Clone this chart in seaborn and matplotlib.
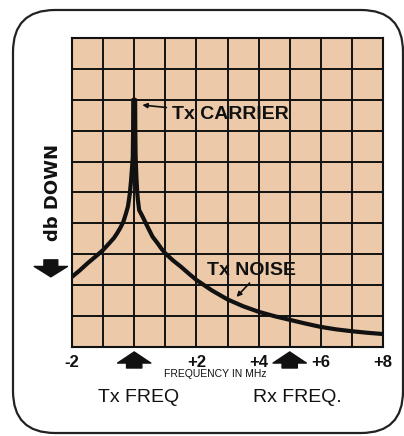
import matplotlib
matplotlib.use("Agg")
import matplotlib.pyplot as plt
import seaborn as sns
import pandas as pd
from matplotlib.patches import FancyBboxPatch
from matplotlib.transforms import IdentityTransform

# ------------------------------------------------------------------
# data (frequency in MHz vs dB level, 0..10 grid)
# ------------------------------------------------------------------
FREQ_MHZ = [-2.0, -1.75, -1.5, -1.25, -1.0, -0.8, -0.65, -0.55, -0.45,
            -0.35, -0.28, -0.2, -0.14, -0.1, -0.07, -0.045, -0.035, -0.03,
            0.03, 0.035, 0.045, 0.07, 0.1, 0.12, 0.14, 0.16, 0.27, 0.43,
            0.59, 0.75, 0.87, 1.0, 1.25, 1.5, 1.75, 2.0, 2.5, 3.0, 3.5,
            4.0, 4.5, 5.0, 5.5, 6.0, 6.5, 7.0, 7.5, 8.0]
LEVEL = [2.27, 2.48, 2.71, 2.92, 3.14, 3.36, 3.53, 3.68, 3.85,
         4.05, 4.27, 4.55, 4.97, 5.4, 5.8, 6.16, 7.0, 8.0,
         8.0, 7.0, 6.2, 5.5, 4.97, 4.75, 4.59, 4.43, 4.22, 3.89,
         3.57, 3.36, 3.19, 3.03, 2.8, 2.6, 2.38, 2.17, 1.83, 1.54, 1.32,
         1.14, 1.0, 0.88, 0.76, 0.65, 0.57, 0.51, 0.46, 0.42]

X_TICKS = list(range(-2, 9))
X_TICK_LABELS = ["-2", "", "", "", "+2", "", "+4", "", "+6", "", "+8"]
Y_TICKS = list(range(0, 11))

TX_FREQ = 0
RX_FREQ = 5

PAPER = "#ECC9A9"
INK = "#111111"

# ------------------------------------------------------------------
sns.set_theme(style="white")
plt.rcParams['font.family'] = ['Liberation Sans', 'DejaVu Sans']
plt.rcParams['text.color'] = INK
plt.rcParams['axes.labelcolor'] = INK
plt.rcParams['xtick.color'] = INK

fig = plt.figure(figsize=(4.04, 4.36), dpi=100)
ax = fig.add_axes([72 / 404, 89 / 436, 311 / 404, 309 / 436])
ax.set_facecolor(PAPER)

df = pd.DataFrame({"freq": FREQ_MHZ, "level": LEVEL})
sns.lineplot(data=df, x="freq", y="level", ax=ax, color=INK,
             linewidth=3, sort=False, zorder=3)

ax.set_xlim(-2, 8)
ax.set_ylim(0, 10)
ax.set_xticks(X_TICKS)
ax.set_xticklabels(X_TICK_LABELS, fontsize=12, fontweight="bold")
ax.set_yticks(Y_TICKS)
ax.set_yticklabels([])
ax.tick_params(length=0, pad=6, labelcolor=INK)
ax.grid(True, color=INK, linewidth=1.4)
ax.set_axisbelow(True)
for sp in ax.spines.values():
    sp.set_color(INK)
    sp.set_linewidth(1.5)

ax.set_xlabel("")
ax.set_ylabel("db DOWN", fontsize=13, fontweight="bold", labelpad=1,
              family=["DejaVu Sans"], color=INK)

# labels on the chart
ax.annotate("Tx CARRIER", xy=(0.26, 7.83), xytext=(1.23, 7.54),
            va="center", ha="left", fontsize=14, fontweight="bold", color=INK,
            arrowprops=dict(arrowstyle="-|>", color=INK, lw=1.2,
                            shrinkA=2, shrinkB=0, mutation_scale=7))
ax.text(2.35, 2.48, "Tx NOISE", va="center", ha="left",
        fontsize=14, fontweight="bold", color=INK)
ax.annotate("", xy=(3.29, 1.62), xytext=(3.71, 2.07),
            arrowprops=dict(arrowstyle="-|>", color=INK, lw=1.2,
                            shrinkA=0, shrinkB=0, mutation_scale=7))

# frequency markers below the axis
up = "simple,head_length=0.8,head_width=2.4,tail_width=1.1"
for f in (TX_FREQ, RX_FREQ):
    ax.annotate("", xy=(f, -0.016), xycoords=("data", "axes fraction"),
                xytext=(f, -0.068), textcoords=("data", "axes fraction"),
                annotation_clip=False,
                arrowprops=dict(arrowstyle=up, color=INK, shrinkA=0,
                                shrinkB=0, mutation_scale=10))

ax.text(2.6, -0.088, "FREQUENCY IN MHz", transform=ax.get_xaxis_transform(),
        ha="center", va="center", fontsize=7.5, color=INK)
ax.text(TX_FREQ + 0.13, -0.165, "Tx FREQ", transform=ax.get_xaxis_transform(),
        ha="center", va="center", fontsize=14, color=INK)
ax.text(RX_FREQ + 0.26, -0.165, "Rx FREQ.", transform=ax.get_xaxis_transform(),
        ha="center", va="center", fontsize=14, color=INK)

# "down" arrow next to the y label
down = "simple,head_length=0.75,head_width=2.4,tail_width=1.0"
ax.annotate("", xy=(-0.068, 0.227), xycoords="axes fraction",
            xytext=(-0.068, 0.282), textcoords="axes fraction",
            annotation_clip=False,
            arrowprops=dict(arrowstyle=down, color=INK, shrinkA=0,
                            shrinkB=0, mutation_scale=10))

# rounded card border
border = FancyBboxPatch((13, 3), 390, 423,
                        boxstyle="round,pad=0,rounding_size=42",
                        transform=IdentityTransform(), fill=False,
                        lw=1.6, ec="#222222")
fig.add_artist(border)

fig.savefig("out.png", dpi=100)
